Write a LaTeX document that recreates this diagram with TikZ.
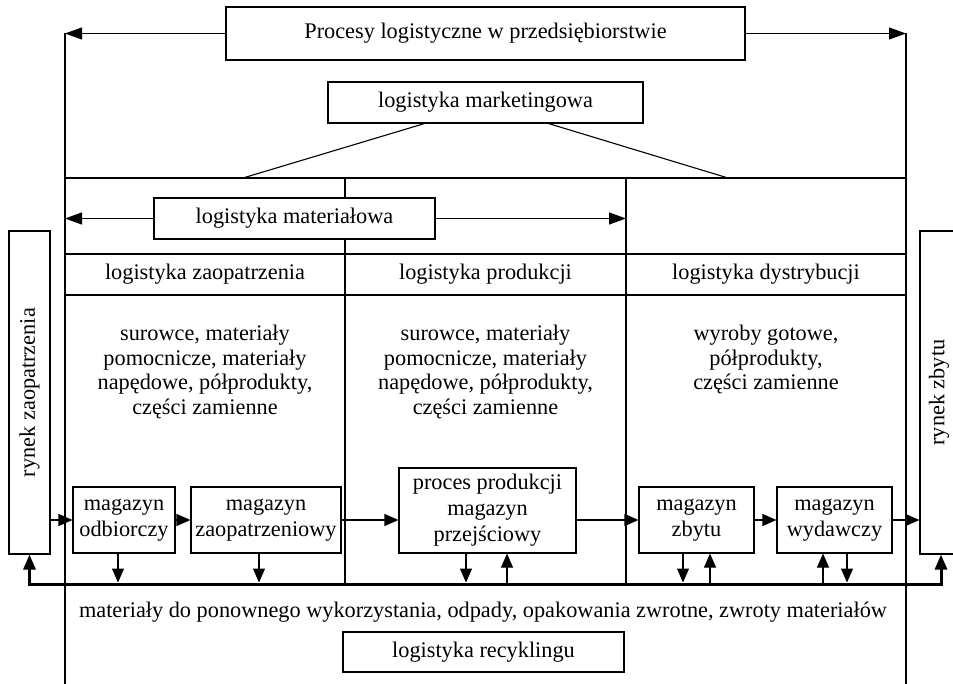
\documentclass[tikz,border=0pt]{standalone}
\usepackage{fontspec}
\setmainfont{Liberation Serif}
\usetikzlibrary{arrows.meta}

\begin{document}
\begin{tikzpicture}[x=1pt,y=-1pt,
  every node/.style={font=\fontsize{22.3}{24.5}\selectfont, inner sep=0pt},
  box/.style={draw, fill=white, line width=1.1pt},
  mbox/.style={box, align=center, font=\fontsize{22.3}{26}\selectfont},
  ln/.style={line width=1.1pt},
  arr/.style={line width=1.1pt, -{Triangle[length=14pt,width=12pt]}},
  bigarr/.style={line width=1.1pt, -{Triangle[length=17pt,width=12pt]}},
  rec/.style={line width=3pt, {Triangle[length=15pt,width=12pt]}-{Triangle[length=15pt,width=12pt]}}]
\useasboundingbox (0,0) rectangle (953,684);

% frame of the enterprise
\coordinate (tl) at (65,33.5);
\coordinate (tr) at (906,33.5);
\coordinate (bl) at (65,684);
\coordinate (br) at (906,684);
\coordinate (hl) at (65,178);
\coordinate (hr) at (906,178);
\coordinate (v1t) at (345,178);
\coordinate (v1b) at (345,584);
\coordinate (v2t) at (626,178);
\coordinate (v2b) at (626,584);
\coordinate (m1) at (243,178);
\coordinate (m2) at (728,178);
\coordinate (ml) at (65,218.5);
\coordinate (mr) at (626,218.5);
\coordinate (rl) at (29.5,584);
\coordinate (rr) at (941,584);

\draw[ln] (tl) -- (bl);
\draw[ln] (tr) -- (br);
\draw[ln] (hl) -- (hr);
\draw[ln] (v1t) -- (v1b);
\draw[ln] (v2t) -- (v2b);

% boxes
\node[box, minimum width=519, minimum height=53] (top) at (485.5,33.5) {Procesy logistyczne w przedsiębiorstwie};
\node[box, minimum width=315, minimum height=41] (mk) at (485.5,102.5) {logistyka marketingowa};
\node[box, minimum width=281, minimum height=41] (mat) at (294.5,218.5) {logistyka materiałowa};

\node[box, minimum width=280, minimum height=41] (hz) at (205,274.5) {logistyka zaopatrzenia};
\node[box, minimum width=281, minimum height=41] (hp) at (485.5,274.5) {logistyka produkcji};
\node[box, minimum width=280, minimum height=41] (hd) at (766,274.5) {logistyka dystrybucji};

\node[anchor=north, align=center] (t1) at (205,325) {surowce, materiały\\pomocnicze, materiały\\napędowe, półprodukty,\\części zamienne};
\node[anchor=north, align=center] (t2) at (485.5,325) {surowce, materiały\\pomocnicze, materiały\\napędowe, półprodukty,\\części zamienne};
\node[anchor=north, align=center] (t3) at (766,325) {wyroby gotowe,\\półprodukty,\\części zamienne};

\node[box, minimum width=41, minimum height=323] (rza) at (29.5,392.5) {};
\node[rotate=90] (rzat) at (rza.center) {rynek zaopatrzenia};
\node[box, minimum width=42, minimum height=323] (rzb) at (941,392.5) {};
\node[rotate=90] (rzbt) at ([xshift=-2pt]rzb.center) {rynek zbytu};

\node[mbox, minimum width=102, minimum height=66] (odb) at (124,520) {magazyn\\odbiorczy};
\node[mbox, minimum width=150, minimum height=66] (zap) at (266,520) {magazyn\\zaopatrzeniowy};
\node[mbox, minimum width=177, minimum height=85] (proc) at (487.5,510.5) {proces produkcji\\magazyn\\przejściowy};
\node[mbox, minimum width=115, minimum height=66] (zbt) at (696.5,520) {magazyn\\zbytu};
\node[mbox, minimum width=115, minimum height=66] (wyd) at (834.5,520) {magazyn\\wydawczy};

\node (rtext) at (483,612) {materiały do ponownego wykorzystania, odpady, opakowania zwrotne, zwroty materiałów};
\node[box, minimum width=281, minimum height=40] (rec) at (483.5,652) {logistyka recyklingu};

% links from the headings
\draw[bigarr] (top.west) -- (tl);
\draw[bigarr] (top.east) -- (tr);
\draw[ln] ([xshift=97pt]mk.south west) -- (m1);
\draw[ln] ([xshift=-95pt]mk.south east) -- (m2);
\draw[bigarr] (mat.west) -- (ml);
\draw[bigarr] (mat.east) -- (mr);

% material flow
\draw[arr] (rza.east |- odb.west) -- (odb.west);
\draw[arr] (odb) -- (zap);
\draw[arr] (zap.east) -- (zap.east -| proc.west);
\draw[arr] (proc.east |- zbt.west) -- (zbt.west);
\draw[arr] (zbt) -- (wyd);
\draw[arr] (wyd.east) -- (wyd.east -| rzb.west);

% recycling line
\draw[rec] (rza.south) -- (rl) -- (rr) -- (rzb.south);

\path ([xshift=-6pt]odb.south) coordinate (d1)
      ([xshift=-7pt]zap.south) coordinate (d2)
      ([xshift=-21.5pt]proc.south) coordinate (d3)
      ([xshift=19.5pt]proc.south) coordinate (u3)
      ([xshift=-13.5pt]zbt.south) coordinate (d4)
      ([xshift=13.5pt]zbt.south) coordinate (u4)
      ([xshift=-11.5pt]wyd.south) coordinate (u5)
      ([xshift=12.5pt]wyd.south) coordinate (d5);
\foreach \c in {d1,d2,d3,d4,d5}
  \draw[arr, shorten >=1.5pt] (\c) -- (\c |- rl);
\foreach \c in {u3,u4,u5}
  \draw[arr, shorten <=1.5pt] (\c |- rl) -- (\c);
\end{tikzpicture}
\end{document}
